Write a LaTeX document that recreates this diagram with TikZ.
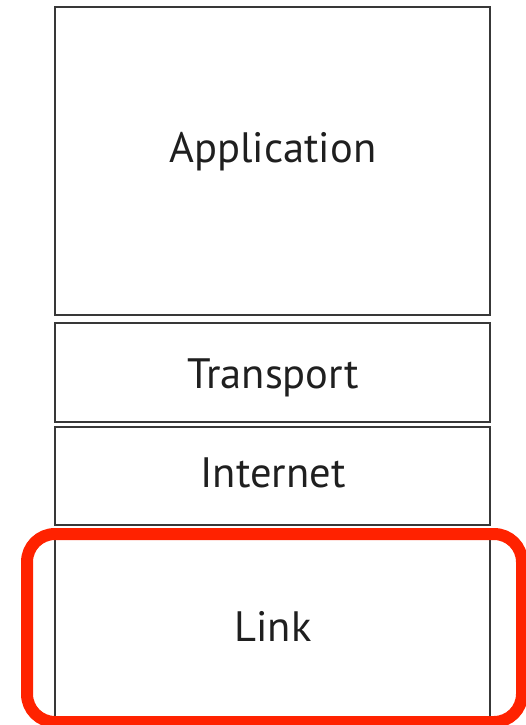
\documentclass[tikz,border=0pt]{standalone}
\usepackage{fontspec}
\setmainfont{PT Sans}
\begin{document}
\begin{tikzpicture}[x=1pt,y=-1pt,
  layer/.style={draw=black!78,line width=2pt},
  lbl/.style={font=\fontsize{42.5}{42.5}\selectfont,text=black!88,anchor=base,inner sep=0pt},
  highlight/.style={draw={rgb,255:red,255;green,34;blue,0},line width=12pt,rounded corners=28pt}]
  \useasboundingbox (0,0) rectangle (525,725);
  % protocol layers
  \draw[layer] (55,7) rectangle (490,315);
  \draw[layer] (55,323) rectangle (490,422);
  \draw[layer] (55,427) rectangle (490,525);
  \draw[layer] (55,534) rectangle (490,722);
  \node[lbl] (app) at (273,162) {Application};
  \node[lbl] (trn) at (273,388) {Transport};
  \node[lbl] (inet) at (273,487) {Internet};
  \node[lbl] (link) at (273,641) {Link};
  % highlight around the link layer
  \draw[highlight] (27,534) rectangle (522,722);
\end{tikzpicture}
\end{document}
